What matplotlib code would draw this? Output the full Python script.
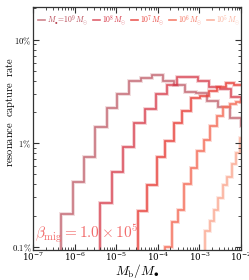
import numpy as np
import matplotlib
matplotlib.use("Agg")
import matplotlib.pyplot as plt
from matplotlib.ticker import FixedLocator, FixedFormatter, LogLocator, NullFormatter

plt.rcParams['mathtext.fontset'] = 'cm'
plt.rcParams['font.family'] = ['DejaVu Serif']

# ---- data: bin edges in log10(Mb/M•), capture rate in percent ----
labels = [r"$M_{\bullet}\!=\!10^9M_{\odot}$", r"$10^8M_{\odot}$", r"$10^7M_{\odot}$",
          r"$10^6M_{\odot}$", r"$10^5M_{\odot}$"]

edges_1 = [-6.60, -6.33, -6.05, -5.77, -5.51, -5.23, -4.97, -4.69, -4.41, -4.15, -3.87,
           -3.61, -3.35, -3.07, -2.81, -2.55, -2.26, -2.01, -1.74]
rate_1 = [0.01, 0.208, 0.418, 0.741, 1.42, 2.19, 2.96, 3.95, 4.29, 4.56, 4.02,
          3.68, 3.12, 3.05, 2.57, 2.22, 1.75, 1.45]

edges_2 = [-5.66, -5.39, -5.11, -4.84, -4.57, -4.31, -4.04, -3.79, -3.55, -3.29,
           -3.03, -2.77, -2.51, -2.25, -1.99, -1.73]
rate_2 = [0.01, 0.262, 0.522, 0.91, 1.57, 2.14, 2.99, 3.67, 4.34, 4.40,
          3.95, 3.51, 3.36, 2.81, 2.52]

edges_3 = [-4.68, -4.47, -4.25, -4.03, -3.82, -3.62, -3.41, -3.20, -2.99, -2.78,
           -2.57, -2.37, -2.17, -1.96]
rate_3 = [0.01, 0.223, 0.393, 0.73, 1.06, 1.56, 2.06, 2.73, 2.83, 3.22,
          3.51, 3.78, 3.67]

edges_4 = [-3.99, -3.83, -3.67, -3.52, -3.36, -3.21, -3.05, -2.89, -2.74, -2.58,
           -2.43, -2.27, -2.11, -1.96]
rate_4 = [0.01, 0.0984, 0.172, 0.226, 0.40, 0.575, 0.847, 1.08, 1.45, 1.84,
          2.22, 2.39, 2.52]

edges_5 = [-2.98, -2.87, -2.75, -2.65, -2.55, -2.44, -2.33, -2.22, -2.12, -2.02, -1.90]
rate_5 = [0.01, 0.143, 0.176, 0.228, 0.296, 0.397, 0.468, 0.624, 0.81, 1.13]

edges_all = [edges_1, edges_2, edges_3, edges_4, edges_5]
rates_all = [rate_1, rate_2, rate_3, rate_4, rate_5]
colors = ["#b5424f", "#d42f3f", "#e8403a", "#f5725e", "#fbb09b"]
alphas = [0.65, 0.75, 0.85, 0.9, 0.95]

beta_text = r"$\beta_{\rm mig}=1.0\times10^5$"

fig = plt.figure(figsize=(2.49, 2.80), dpi=100)
ax = fig.add_axes([33/249, 1-250/280, (241-33)/249, (250-7.3)/280])

for e, r, c, a, lab in zip(edges_all, rates_all, colors, alphas, labels):
    x = 10.0 ** np.array(e)
    y = np.array(r) / 100.0
    ax.stairs(y, x, baseline=None, color=c, lw=2.8, alpha=a * 0.3)
    ax.stairs(y, x, baseline=None, color=c, lw=1.2, alpha=a, label=lab)

ax.set_xscale('log')
ax.set_yscale('log')
ax.set_xlim(1e-7, 1e-2)
ax.set_ylim(0.00093, 0.205)

ax.yaxis.set_major_locator(FixedLocator([0.001, 0.01, 0.1]))
ax.yaxis.set_major_formatter(FixedFormatter([r"$0.1\%$", r"$1\%$", r"$10\%$"]))
ax.yaxis.set_minor_locator(LogLocator(base=10, subs=np.arange(2, 10) * 1.0))
ax.yaxis.set_minor_formatter(NullFormatter())
ax.xaxis.set_major_locator(LogLocator(base=10, numticks=10))
ax.xaxis.set_minor_locator(LogLocator(base=10, subs=np.arange(2, 10) * 1.0, numticks=20))
ax.xaxis.set_minor_formatter(NullFormatter())

ax.tick_params(which='both', direction='in', top=True, right=True, labelsize=6.3, pad=1.0,
               colors='#333333', labelcolor='black')
ax.tick_params(axis='x', which='both', pad=0.2)
ax.tick_params(which='major', length=4, width=0.8)
ax.tick_params(which='minor', length=2, width=0.6)
for s in ax.spines.values():
    s.set_color('#333333')
    s.set_linewidth(0.9)

ax.set_xlabel(r"$M_{\rm b}/M_{\bullet}$", fontsize=9.5)
ax.xaxis.set_label_coords(0.5, -0.05)
ax.set_ylabel(r"$\mathrm{resonance\ \ capture\ \ rate}$", fontsize=7.5)
ax.yaxis.set_label_coords(-0.075, 0.57)

ax.text(0.012, 0.022, beta_text, transform=ax.transAxes, fontsize=11,
        color="#f26b6b", ha='left', va='bottom')

leg = ax.legend(loc='upper center', ncol=5, fontsize=5.5, frameon=False,
                handlelength=0.9, handletextpad=0.3, columnspacing=0.6,
                borderaxespad=0.35, bbox_to_anchor=(0.51, 1.0))
for t, c in zip(leg.get_texts(), colors):
    t.set_color(c)

fig.savefig("out.png", dpi=100)
